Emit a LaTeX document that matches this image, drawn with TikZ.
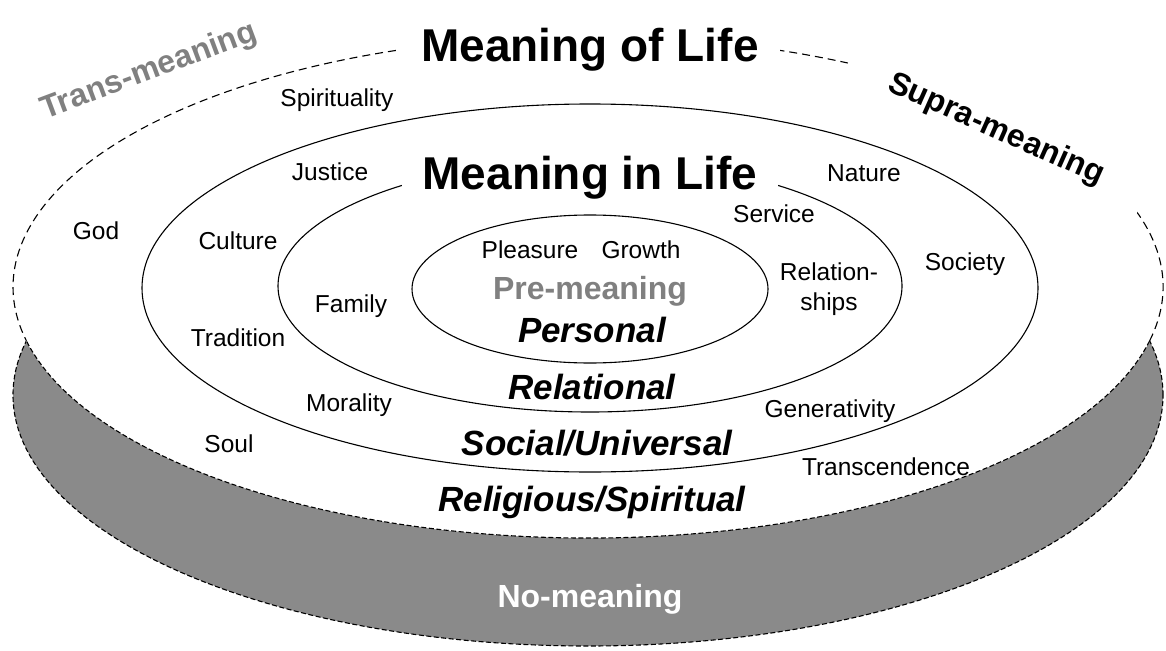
\documentclass[tikz,border=0pt]{standalone}
\usepackage{fontspec}
\setmainfont{Liberation Sans}
\definecolor{diskgray}{HTML}{8A8A8A}
\definecolor{txtgray}{HTML}{808080}
\begin{document}
\begin{tikzpicture}[x=1pt,y=-1pt,
  lbl/.style={font=\fontsize{24.5}{30}\selectfont, inner sep=0pt, align=center},
  titlebox/.style={font=\bfseries\fontsize{46}{50}\selectfont, fill=white, inner xsep=21pt, inner ysep=2pt},
  levelname/.style={font=\bfseries\itshape\fontsize{35}{38}\selectfont, inner sep=0pt},
  meaningname/.style={font=\bfseries\fontsize{32}{34}\selectfont, inner sep=0pt},
  longdash/.style={line width=1.1pt, dash pattern=on 8pt off 5pt},
  densedash/.style={line width=1.1pt, dash pattern=on 5pt off 2.5pt},
  ring/.style={line width=1.1pt},
]
\useasboundingbox (0,0) rectangle (1166,650);
\coordinate (ctop) at (588,287);
\coordinate (cbot) at (588,395);
% gray lower disc
\fill[diskgray] (cbot) ellipse [x radius=575pt, y radius=251pt];
\draw[densedash] (cbot) ellipse [x radius=575pt, y radius=251pt];
% white top surface
\fill[white] (ctop) ellipse [x radius=575pt, y radius=251pt];
\draw[longdash] (ctop) ++(-12.4:575pt and 251pt) arc[start angle=-12.4, end angle=192.4, x radius=575pt, y radius=251pt];
\draw[densedash] (ctop) ++(-12.4:575pt and 251pt) arc[start angle=-12.4, end angle=-167.6, x radius=575pt, y radius=251pt];
% solid rings
\draw[ring] (590,288) ellipse [x radius=448pt, y radius=184pt];
\draw[ring] (590,286) ellipse [x radius=312pt, y radius=126pt];
\draw[ring] (590,289) ellipse [x radius=178pt, y radius=74pt];
% titles
\node[titlebox] (mol) at (590,50) {Meaning of Life};
\node[titlebox] (mil) at (590,178) {Meaning in Life};
% meaning types
\node[meaningname, text=txtgray, rotate=20.5] (trans) at (149,72) {Trans-meaning};
\node[meaningname, fill=white, inner xsep=46pt, inner ysep=6pt, rotate=-24] (supra) at (996,130) {Supra-meaning};
\node[meaningname, text=txtgray] (pre) at (590,291) {Pre-meaning};
\node[meaningname, text=white] (no) at (590,599) {No-meaning};
% levels
\node[levelname] (personal) at (592,330) {Personal};
\node[levelname] (relational) at (592,387) {Relational};
\node[levelname] (social) at (597,443) {Social/Universal};
\node[levelname] (religious) at (592,502) {Religious/Spiritual};
% labels
\node[lbl] (spirit) at (337,100) {Spirituality};
\node[lbl] (justice) at (330,172) {Justice};
\node[lbl] (god) at (96,231) {God};
\node[lbl] (culture) at (238,241) {Culture};
\node[lbl] (family) at (351,306) {Family};
\node[lbl] (tradition) at (238,338) {Tradition};
\node[lbl] (morality) at (349,405) {Morality};
\node[lbl] (soul) at (229,444) {Soul};
\node[lbl] (nature) at (864,173) {Nature};
\node[lbl] (service) at (774,214) {Service};
\node[lbl] (society) at (965,264) {Society};
\node[lbl] (relships) at (829,289) {Relation-\\ships};
\node[lbl] (pleasure) at (530,250) {Pleasure};
\node[lbl] (growth) at (641,250) {Growth};
\node[lbl] (gener) at (830,411) {Generativity};
\node[lbl] (transc) at (886,467) {Transcendence};
\end{tikzpicture}
\end{document}
